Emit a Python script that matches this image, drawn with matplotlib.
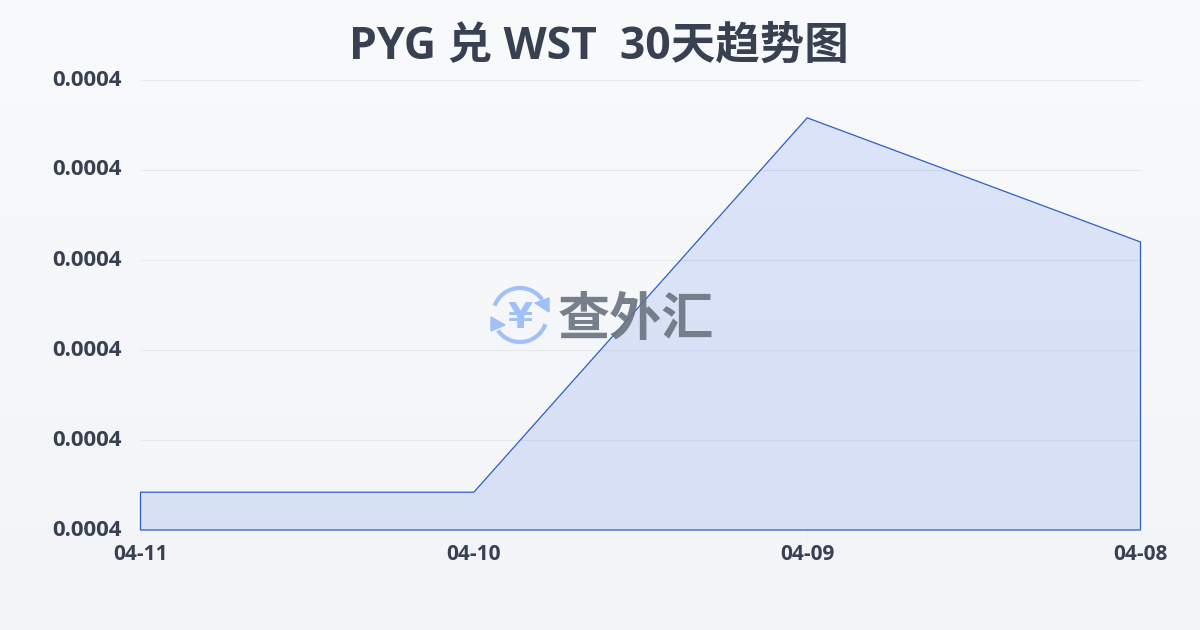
import numpy as np
import matplotlib
matplotlib.use("Agg")
import matplotlib.pyplot as plt
from matplotlib.patches import Arc, Polygon

plt.rcParams["font.family"] = ["Open Sans", "Noto Sans CJK SC", "DejaVu Sans"]

# data
dates = ["04-11", "04-10", "04-09", "04-08"]
rates = [0.0003842, 0.0003842, 0.0004258, 0.0004120]
y_ticks = [0.00038, 0.00039, 0.00040, 0.00041, 0.00042, 0.00043]

TEXT = "#374151"
W, H = 1200, 630

fig = plt.figure(figsize=(12, 6.3), dpi=100)

# background gradient
bg = fig.add_axes([0, 0, 1, 1], zorder=0)
bg.imshow(
    np.linspace(0, 1, 256).reshape(-1, 1),
    aspect="auto",
    cmap=matplotlib.colors.LinearSegmentedColormap.from_list("bg", ["#f8fafc", "#f2f4f7"]),
)
bg.axis("off")

# plot area is 140..1140 x 80..530 in pixels
ax = fig.add_axes([140.5 / W, 1 - 530 / H, 1000 / W, 450 / H], zorder=1)
ax.patch.set_alpha(0)
x = np.arange(len(dates))

ax.fill_between(x, rates, y_ticks[0], facecolor=(0.16, 0.36, 0.90, 0.135), edgecolor="none", zorder=2)
ax.fill_between(x, rates, y_ticks[0], facecolor="none", edgecolor="#2f5fc4", linewidth=0.9,
                zorder=3, clip_on=False)

ax.set_xlim(0, 3)
ax.set_ylim(y_ticks[0], y_ticks[-1])
ax.set_xticks(x)
ax.set_xticklabels(dates, fontsize=15, fontweight="bold", color=TEXT)
ax.set_yticks(y_ticks)
ax.set_yticklabels([f"{v:.4f}" for v in y_ticks], fontsize=16, fontweight="bold", color=TEXT)
ax.grid(axis="y", color="#e5e7eb", linewidth=0.8, zorder=1)
ax.tick_params(axis="y", length=0, pad=13.5)
ax.tick_params(axis="x", length=7, width=0.6, color="#efeee8", pad=3)
for side in ax.spines.values():
    side.set_visible(False)
for lab in ax.get_yticklabels():
    lab.set_verticalalignment("center")

fig.text(0.499, 1 - 47 / H, "PYG 兑 WST  30天趋势图", ha="center", va="center",
         fontsize=32, fontweight="bold", color=TEXT)

# watermark, in pixel coordinates
wm = fig.add_axes([0, 0, 1, 1], zorder=3)
wm.set_xlim(0, W)
wm.set_ylim(H, 0)
wm.axis("off")
wm.patch.set_alpha(0)
LOGO = "#a0c1f8"
cx, cy = 520, 315
wm.add_patch(Arc((cx, cy), 54, 54, theta1=200, theta2=325, color=LOGO, lw=3))
wm.add_patch(Arc((cx, cy), 54, 54, theta1=20, theta2=145, color=LOGO, lw=3))
wm.add_patch(Polygon([(549, 298), (549, 312), (535, 303)], color=LOGO))
wm.add_patch(Polygon([(491, 317), (491, 331), (505, 325)], color=LOGO))
wm.text(cx, cy + 3, "¥", ha="center", va="center", fontsize=26, fontweight="bold", color=LOGO,
        family=["DejaVu Sans"])
wm.text(636, 322, "查外汇", ha="center", va="center", fontsize=37.5, fontweight="bold",
        color="#6b7280", alpha=0.9)

fig.savefig("out.png", dpi=100)
